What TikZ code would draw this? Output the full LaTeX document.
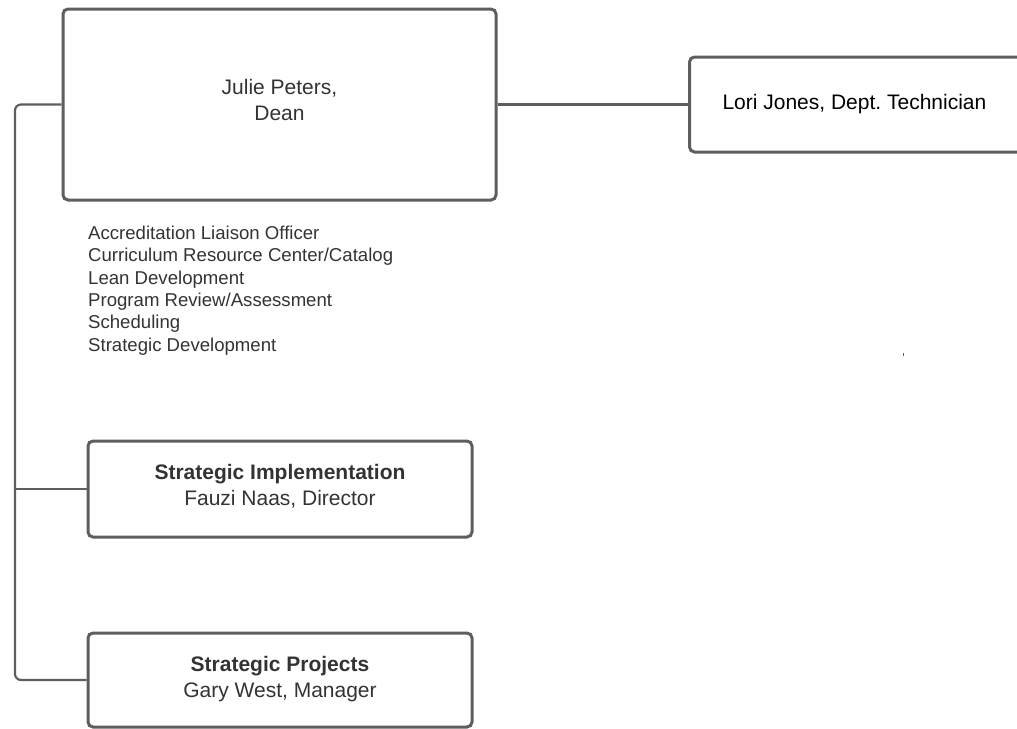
\documentclass[tikz,border=0pt]{standalone}
\usepackage{fontspec}
\setmainfont{Liberation Sans}
\frenchspacing
\definecolor{edge}{HTML}{5E5E5E}
\definecolor{txt}{HTML}{333333}
\begin{document}
\begin{tikzpicture}[x=1pt,y=-1pt,
  box/.style={draw=edge,line width=3pt,rounded corners=5pt,fill=white,inner sep=0pt},
  lbl/.style={text=txt,align=center,inner sep=0pt,font=\fontsize{21}{26}\selectfont},
  conn/.style={draw=edge,line width=2.2pt,rounded corners=6pt}]
\useasboundingbox (0,0) rectangle (1017,728);
\clip (0,0) rectangle (1017,728);
\node[box,minimum width=433pt,minimum height=191pt] (dean) at (279.5,104.5) {};
\node[lbl] (deantxt) at ([yshift=5pt]dean.center) {Julie Peters,\\Dean};
\node[box,anchor=west,minimum width=350pt,minimum height=95pt,text width=284pt,align=flush left,inner xsep=32pt,text=black,font=\fontsize{21}{26}\selectfont\frenchspacing] (lori) at (688,104.5) {Lori Jones, Dept. Technician};
\node[box,minimum width=384pt,minimum height=96pt] (si) at (280,489) {};
\node[lbl] (sitxt) at ([yshift=3pt]si.center) {\textbf{Strategic Implementation}\\Fauzi Naas, Director};
\node[box,minimum width=384pt,minimum height=94pt] (sp) at (280,680) {};
\node[lbl] (sptxt) at ([yshift=1pt]sp.center) {\textbf{Strategic Projects}\\Gary West, Manager};
\node[anchor=north west,inner sep=0pt,align=left,text=txt,font=\fontsize{18.6}{22.3}\selectfont] (list) at (88,226) {Accreditation Liaison Officer\\Curriculum Resource Center/Catalog\\Lean Development\\Program Review/Assessment\\Scheduling\\Strategic Development};
\coordinate (trunk) at (15,0);
\draw[conn] (dean.east) -- (lori.west);
\draw[conn] (dean.west) -- (dean.west -| trunk) |- (sp.west);
\draw[conn] (si.west) -- (si.west -| trunk);
\fill[edge] (902.5,352.5) rectangle (904,355.5);
\end{tikzpicture}
\end{document}
